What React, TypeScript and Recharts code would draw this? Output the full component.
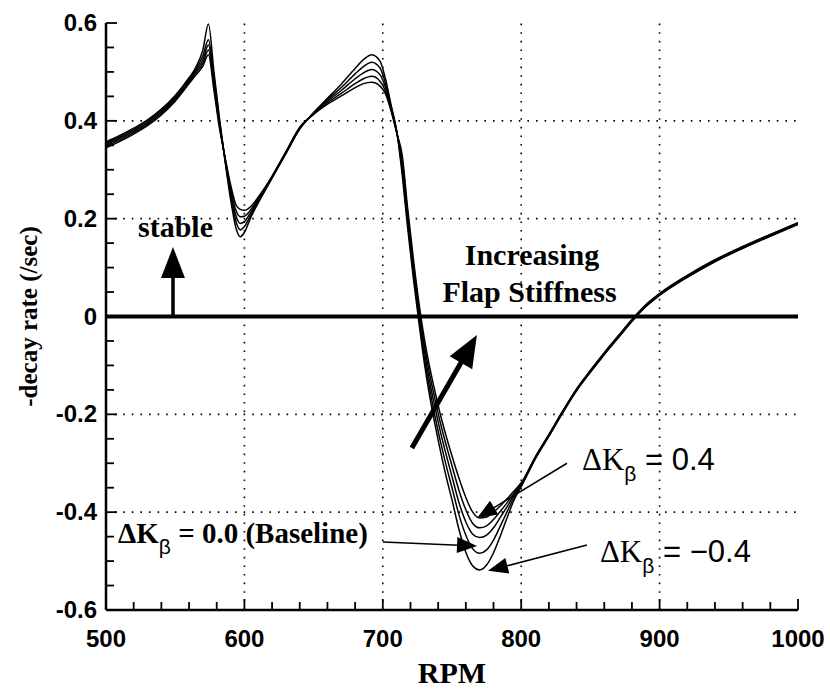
import React from "react";
import { LineChart, Line, XAxis, YAxis, ReferenceLine, ReferenceDot, Label } from "recharts";

const rpm = [500, 510, 520, 530, 540, 550, 560, 565, 570, 574, 578, 582, 586, 590, 594, 597, 600, 605, 610, 620, 630, 640, 650, 660, 670, 680, 686, 692, 698, 702, 706, 710, 714, 718, 722, 726, 730, 734, 738, 742, 746, 750, 755, 760, 765, 770, 775, 780, 785, 790, 795, 800, 810, 820, 830, 840, 850, 860, 870, 880, 890, 900, 920, 940, 960, 980, 1000];

// delta K_beta = -0.4
const dkM04 = [0.357, 0.37, 0.385, 0.402, 0.424, 0.452, 0.488, 0.51, 0.545, 0.598, 0.5, 0.405, 0.318, 0.24, 0.18, 0.163, 0.172, 0.205, 0.232, 0.283, 0.333, 0.383, 0.417, 0.446, 0.475, 0.507, 0.525, 0.535, 0.522, 0.485, 0.432, 0.38, 0.29, 0.18, 0.08, -0.01, -0.095, -0.165, -0.225, -0.28, -0.33, -0.375, -0.435, -0.482, -0.51, -0.518, -0.508, -0.483, -0.448, -0.41, -0.374, -0.348, -0.292, -0.245, -0.197, -0.152, -0.114, -0.078, -0.044, -0.01, 0.02, 0.043, 0.08, 0.112, 0.139, 0.164, 0.188];
// delta K_beta = -0.2
const dkM02 = [0.354, 0.367, 0.382, 0.399, 0.421, 0.449, 0.485, 0.506, 0.533, 0.566, 0.49, 0.4, 0.32, 0.248, 0.193, 0.177, 0.184, 0.21, 0.235, 0.284, 0.334, 0.384, 0.416, 0.443, 0.468, 0.496, 0.511, 0.52, 0.508, 0.476, 0.429, 0.379, 0.3, 0.19, 0.09, 0.0, -0.083, -0.15, -0.208, -0.26, -0.307, -0.35, -0.405, -0.447, -0.475, -0.484, -0.477, -0.457, -0.428, -0.398, -0.369, -0.346, -0.291, -0.244, -0.196, -0.151, -0.113, -0.077, -0.043, -0.009, 0.021, 0.044, 0.081, 0.113, 0.14, 0.165, 0.189];
// delta K_beta = 0.0 (baseline)
const dkZ00 = [0.351, 0.364, 0.379, 0.396, 0.418, 0.446, 0.482, 0.502, 0.525, 0.555, 0.48, 0.395, 0.322, 0.255, 0.205, 0.19, 0.194, 0.215, 0.238, 0.285, 0.335, 0.385, 0.415, 0.44, 0.462, 0.486, 0.498, 0.505, 0.494, 0.468, 0.426, 0.378, 0.31, 0.2, 0.1, 0.01, -0.07, -0.135, -0.19, -0.24, -0.285, -0.327, -0.38, -0.42, -0.445, -0.452, -0.447, -0.432, -0.41, -0.388, -0.364, -0.344, -0.29, -0.243, -0.195, -0.15, -0.112, -0.076, -0.042, -0.008, 0.022, 0.045, 0.082, 0.114, 0.141, 0.166, 0.19];
// delta K_beta = 0.2
const dkP02 = [0.348, 0.361, 0.376, 0.393, 0.415, 0.443, 0.479, 0.498, 0.518, 0.545, 0.47, 0.39, 0.324, 0.262, 0.216, 0.204, 0.205, 0.22, 0.241, 0.286, 0.336, 0.386, 0.414, 0.437, 0.456, 0.476, 0.486, 0.491, 0.481, 0.461, 0.423, 0.377, 0.32, 0.21, 0.11, 0.02, -0.058, -0.12, -0.173, -0.222, -0.265, -0.305, -0.355, -0.395, -0.423, -0.432, -0.428, -0.415, -0.398, -0.38, -0.36, -0.342, -0.289, -0.242, -0.194, -0.149, -0.111, -0.075, -0.041, -0.007, 0.023, 0.046, 0.083, 0.115, 0.142, 0.167, 0.191];
// delta K_beta = 0.4
const dkP04 = [0.345, 0.358, 0.373, 0.39, 0.412, 0.44, 0.476, 0.494, 0.512, 0.535, 0.462, 0.385, 0.326, 0.27, 0.228, 0.219, 0.217, 0.226, 0.244, 0.287, 0.337, 0.387, 0.413, 0.434, 0.451, 0.468, 0.476, 0.479, 0.471, 0.455, 0.42, 0.376, 0.33, 0.22, 0.12, 0.03, -0.045, -0.105, -0.157, -0.205, -0.247, -0.285, -0.33, -0.37, -0.4, -0.412, -0.41, -0.4, -0.387, -0.372, -0.356, -0.34, -0.288, -0.241, -0.193, -0.148, -0.11, -0.074, -0.04, -0.006, 0.024, 0.047, 0.084, 0.116, 0.143, 0.168, 0.192];

const xMajor = [500, 600, 700, 800, 900, 1000];
const xMinor = [520, 540, 560, 580, 620, 640, 660, 680, 720, 740, 760, 780, 820, 840, 860, 880, 920, 940, 960, 980];
const yMajor = [-0.6, -0.4, -0.2, 0, 0.2, 0.4, 0.6];
const yMinor = [-0.55, -0.5, -0.45, -0.35, -0.3, -0.25, -0.15, -0.1, -0.05, 0.05, 0.1, 0.15, 0.25, 0.3, 0.35, 0.45, 0.5, 0.55];
const gridX = [600, 700, 800, 900];
const gridY = [-0.4, -0.2, 0.2, 0.4];

const series = ["m04", "m02", "z00", "p02", "p04"];
const data = rpm.map((r, i) => ({
  rpm: r,
  m04: dkM04[i],
  m02: dkM02[i],
  z00: dkZ00[i],
  p02: dkP02[i],
  p04: dkP04[i],
}));

const xTicks = [...xMajor, ...xMinor].sort((a, b) => a - b);
const yTicks = [...yMajor, ...yMinor].sort((a, b) => a - b);

const SANS = "'Liberation Sans', Arial, sans-serif";
const SERIF = "'Liberation Serif', 'Times New Roman', serif";

const isMajorY = (v: number) => yMajor.some((m) => Math.abs(m - v) < 1e-9);

const BottomTick = (p: any) => {
  const v = p.payload.value;
  const major = xMajor.includes(v);
  return (
    <g>
      <line x1={p.x} y1={p.y} x2={p.x} y2={p.y - (major ? 11 : 8)} stroke="#000" strokeWidth={1.8} />
      {major && (
        <text x={p.x} y={p.y + 37} textAnchor="middle" fontFamily={SANS} fontWeight="bold" fontSize={24} fill="#000">
          {v}
        </text>
      )}
    </g>
  );
};

const TopTick = (p: any) => {
  const major = xMajor.includes(p.payload.value);
  return <line x1={p.x} y1={p.y} x2={p.x} y2={p.y + (major ? 11 : 8)} stroke="#000" strokeWidth={1.8} />;
};

const LeftTick = (p: any) => {
  const v = p.payload.value;
  const major = isMajorY(v);
  return (
    <g>
      <line x1={p.x} y1={p.y} x2={p.x + (major ? 11 : 8)} y2={p.y} stroke="#000" strokeWidth={1.8} />
      {major && (
        <text x={p.x - 9} y={p.y + 8} textAnchor="end" fontFamily={SANS} fontWeight="bold" fontSize={24} fill="#000">
          {Math.abs(v) < 1e-9 ? "0" : v.toFixed(1)}
        </text>
      )}
    </g>
  );
};

const RightTick = (p: any) => {
  const major = isMajorY(p.payload.value);
  return <line x1={p.x} y1={p.y} x2={p.x - (major ? 11 : 8)} y2={p.y} stroke="#000" strokeWidth={1.8} />;
};

const arrow = (head: number, half: number, width: number) => (p: any) => {
  const { x1, y1, x2, y2 } = p;
  const dx = x2 - x1;
  const dy = y2 - y1;
  const len = Math.hypot(dx, dy) || 1;
  const ux = dx / len;
  const uy = dy / len;
  const bx = x2 - ux * head;
  const by = y2 - uy * head;
  const pts = `${x2},${y2} ${bx - uy * half},${by + ux * half} ${bx + uy * half},${by - ux * half}`;
  return (
    <g>
      <line x1={x1} y1={y1} x2={bx + ux * 2} y2={by + uy * 2} stroke="#000" strokeWidth={width} />
      <polygon points={pts} fill="#000" />
    </g>
  );
};

const boldText = (txt: string, anchor: "start" | "middle") => (p: any) => (
  <text x={p.cx} y={p.cy} textAnchor={anchor} fontFamily={SERIF} fontWeight="bold" fontSize={30} fill="#000">
    {txt}
  </text>
);

const dkText = (value: string) => (p: any) => (
  <text x={p.cx} y={p.cy} fill="#000" fontSize={31}>
    <tspan fontFamily={SERIF}>ΔK</tspan>
    <tspan fontFamily={SANS} fontSize={21} dy={11}>β</tspan>
    <tspan fontFamily={SANS} dy={-11}>{" = " + value}</tspan>
  </text>
);

const baselineText = (p: any) => (
  <text x={p.cx} y={p.cy} fill="#000" fontSize={29} fontFamily={SERIF} fontWeight="bold">
    <tspan>ΔK</tspan>
    <tspan fontFamily={SANS} fontWeight="normal" fontSize={21} dy={11}>β</tspan>
    <tspan dy={-11}> = 0.0 (Baseline)</tspan>
  </text>
);

const yLabel = (p: any) => {
  const vb = p.viewBox;
  const cx = vb.x + 28;
  const cy = vb.y + vb.height / 2;
  return (
    <text x={cx} y={cy} transform={`rotate(-90, ${cx}, ${cy})`} textAnchor="middle" dominantBaseline="central"
      fontFamily={SERIF} fontWeight="bold" fontSize={25} fill="#000">
      -decay rate (/sec)
    </text>
  );
};

const xLabel = (p: any) => {
  const vb = p.viewBox;
  return (
    <text x={vb.x + vb.width / 2} y={vb.y + 73} textAnchor="middle" fontFamily={SERIF} fontWeight="bold" fontSize={30} fill="#000">
      RPM
    </text>
  );
};

export default function App() {
  return (
    <div style={{ position: "absolute", left: 0, top: 0, width: 830, height: 689, background: "#fff" }}>
      <LineChart width={830} height={689} data={data} margin={{ top: 23, right: 32, bottom: 0, left: 0 }}>
        <XAxis
          dataKey="rpm"
          type="number"
          domain={[500, 1000]}
          allowDataOverflow
          ticks={xTicks}
          interval={0}
          tickSize={0}
          tickMargin={0}
          tickLine={false}
          tick={<BottomTick />}
          axisLine={{ stroke: "#000", strokeWidth: 2.5 }}
          height={79}
        >
          <Label content={xLabel} />
        </XAxis>
        <XAxis
          xAxisId="top"
          orientation="top"
          dataKey="rpm"
          type="number"
          domain={[500, 1000]}
          allowDataOverflow
          ticks={xTicks}
          interval={0}
          tickSize={0}
          tickMargin={0}
          tickLine={false}
          tick={<TopTick />}
          axisLine={{ stroke: "#000", strokeWidth: 2.5 }}
          height={0}
        />
        <YAxis
          type="number"
          domain={[-0.6, 0.6]}
          allowDataOverflow
          ticks={yTicks}
          interval={0}
          tickSize={0}
          tickMargin={0}
          tickLine={false}
          tick={<LeftTick />}
          axisLine={{ stroke: "#000", strokeWidth: 2.5 }}
          width={106}
        >
          <Label content={yLabel} />
        </YAxis>
        <YAxis
          yAxisId="right"
          orientation="right"
          type="number"
          domain={[-0.6, 0.6]}
          allowDataOverflow
          ticks={yTicks}
          interval={0}
          tickSize={0}
          tickMargin={0}
          tickLine={false}
          tick={<RightTick />}
          axisLine={{ stroke: "#000", strokeWidth: 2.5 }}
          width={0}
        />

        {gridX.map((g) => (
          <ReferenceLine key={"gx" + g} x={g} stroke="#000" strokeWidth={1.6} strokeDasharray="1.6 7" />
        ))}
        {gridY.map((g) => (
          <ReferenceLine key={"gy" + g} y={g} stroke="#000" strokeWidth={1.6} strokeDasharray="1.6 7" />
        ))}

        {series.map((s) => (
          <Line key={s} dataKey={s} type="monotone" stroke="#000" strokeWidth={1.5} dot={false} isAnimationActive={false} />
        ))}

        <ReferenceLine y={0} stroke="#000" strokeWidth={4} />

        <ReferenceLine segment={[{ x: 548.4, y: 0 }, { x: 548.4, y: 0.142 }]} shape={arrow(31, 12, 3.5)} />
        <ReferenceLine segment={[{ x: 721, y: -0.269 }, { x: 768, y: -0.038 }]} shape={arrow(32, 13, 5)} />
        <ReferenceLine segment={[{ x: 833.1, y: -0.3 }, { x: 768.1, y: -0.412 }]} shape={arrow(20, 8, 1.5)} />
        <ReferenceLine segment={[{ x: 700.1, y: -0.461 }, { x: 768.1, y: -0.469 }]} shape={arrow(20, 8, 1.5)} />
        <ReferenceLine segment={[{ x: 847.5, y: -0.467 }, { x: 776, y: -0.52 }]} shape={arrow(20, 8, 1.5)} />

        <ReferenceDot x={550.2} y={0.163} r={0} shape={boldText("stable", "middle")} />
        <ReferenceDot x={807.8} y={0.105} r={0} shape={boldText("Increasing", "middle")} />
        <ReferenceDot x={806} y={0.03} r={0} shape={boldText("Flap Stiffness", "middle")} />
        <ReferenceDot x={843.9} y={-0.314} r={0} shape={dkText("0.4")} />
        <ReferenceDot x={856.9} y={-0.502} r={0} shape={dkText("\u22120.4")} />
        <ReferenceDot x={508.7} y={-0.463} r={0} shape={baselineText} />
      </LineChart>
    </div>
  );
}
